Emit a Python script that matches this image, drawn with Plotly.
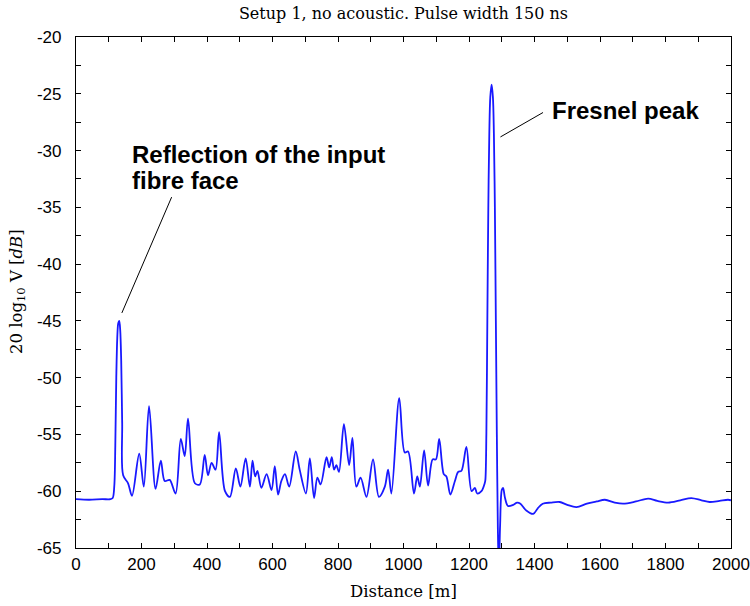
import plotly.graph_objects as go

# ---- data ----
distance_m = [0, 40, 80, 105, 112, 117, 120, 123, 126, 129, 132, 135, 138, 141, 144,
              159, 171, 193, 207, 223, 243, 259, 271, 286, 304, 320, 332, 342, 363, 378,
              393, 403, 414, 426, 437, 455, 470, 488, 502, 518, 531, 539, 547, 554, 566,
              582, 597, 607, 617, 627, 638, 651, 671, 683, 702, 714, 727, 737, 747, 765,
              773, 781, 788, 795, 803, 818, 834, 844, 856, 869, 887, 907, 925, 943, 953,
              963, 987, 1004, 1014, 1032, 1042, 1050, 1063, 1075, 1089, 1099, 1109, 1123,
              1131, 1143, 1157, 1167, 1177, 1192, 1208, 1218, 1225, 1238, 1248,
              1250, 1253, 1256, 1259, 1262, 1265, 1269, 1273, 1276, 1279, 1282, 1285, 1288,
              1291, 1295, 1300, 1304, 1310, 1319, 1335, 1347, 1357, 1375, 1396, 1410, 1425,
              1450, 1477, 1500, 1528, 1560, 1590, 1615, 1645, 1671, 1710, 1747, 1775, 1808,
              1845, 1879, 1910, 1935, 1965, 1991, 2000]
level_db = [-60.7, -60.75, -60.7, -60.7, -60.6, -59.5, -56.0, -50.0, -46.5, -45.2, -45.0, -45.8, -48.5, -54.0, -58.6,
            -59.3, -60.4, -56.7, -59.6, -52.5, -59.8, -57.3, -59.1, -59.0, -60.2, -55.4, -56.9, -53.6, -59.3, -59.4,
            -56.8, -58.6, -57.5, -58.1, -54.8, -60.0, -60.5, -58.0, -59.6, -57.1, -59.6, -57.3, -58.7, -58.2, -59.7,
            -58.5, -59.9, -57.8, -60.3, -59.1, -58.5, -59.6, -56.5, -58.1, -60.2, -57.1, -60.6, -58.8, -59.4, -57.0,
            -57.9, -57.0, -58.1, -57.7, -58.3, -54.1, -57.7, -55.3, -59.6, -58.8, -60.5, -57.2, -60.5, -59.6, -58.1,
            -60.2, -51.8, -56.6, -56.5, -60.2, -58.7, -59.6, -56.4, -59.5, -57.2, -57.2, -55.4, -58.5,
            -58.7, -60.3, -59.1, -58.3, -58.2, -56.1, -60.0, -59.7, -60.2, -60.0, -59.3,
            -59.0, -55.0, -45.0, -35.0, -28.5, -25.3, -24.2, -25.3, -28.5, -35.0, -45.0, -55.0, -63.0,
            -67.0, -63.0, -59.9, -59.7, -60.6, -61.3, -61.2, -61.0, -61.1, -61.7, -62.0, -61.5, -61.1,
            -61.0, -60.95, -61.2, -61.4, -61.1, -60.9, -60.75, -61.0, -61.1, -60.9, -60.65, -60.85, -61.0,
            -60.8, -60.6, -60.8, -60.95, -60.85, -60.75, -60.8]

x_ticks = list(range(0, 2001, 200))
x_ticklabels = [str(v) for v in x_ticks]
y_ticks = list(range(-65, -19, 5))
y_ticklabels = [str(v) for v in y_ticks]

title_text = "Setup 1, no acoustic. Pulse width 150 ns"
x_title = "Distance [m]"
y_title = "20 log<sub>10</sub> V [<i>dB</i>]"
note_reflection_1 = "<b>Reflection of the input</b>"
note_reflection_2 = "<b>fibre face</b>"
note_fresnel = "<b>Fresnel peak</b>"

fig = go.Figure()
fig.add_trace(go.Scatter(
    x=distance_m, y=level_db, mode="lines",
    line=dict(color="rgb(25,25,255)", width=1.8, shape="spline", smoothing=0.9),
    showlegend=False, hoverinfo="skip"))

serif = "DejaVu Serif"
sans = "Liberation Sans"

fig.update_layout(
    width=750, height=606,
    margin=dict(l=76, r=19, t=37, b=58),
    paper_bgcolor="white", plot_bgcolor="white",
    title=dict(text=title_text, x=0.5, xref="paper", y=1 - 13 / 606, yref="container",
               xanchor="center", yanchor="middle",
               font=dict(family=serif, size=16, color="black")),
    xaxis=dict(range=[0, 2000], tickvals=x_ticks, ticktext=x_ticklabels, ticks="inside",
               ticklen=5, tickwidth=1, automargin=False,
               tickcolor="black", showline=True, linecolor="black", linewidth=1.2,
               mirror="allticks", showgrid=False, zeroline=False,
               minor=dict(dtick=100, tick0=0, ticks="inside", ticklen=5, tickcolor="black", showgrid=False),
               tickfont=dict(family=sans, size=17, color="black")),
    yaxis=dict(range=[-65, -20], tickvals=y_ticks, ticktext=y_ticklabels, ticks="inside",
               ticklen=5, tickwidth=1, automargin=False, ticklabelstandoff=10,
               tickcolor="black", showline=True, linecolor="black", linewidth=1.2,
               mirror="allticks", showgrid=False, zeroline=False,
               minor=dict(dtick=2.5, tick0=-65, ticks="inside", ticklen=5, tickcolor="black", showgrid=False),
               tickfont=dict(family=sans, size=17, color="black")),
)

# axis titles
fig.add_annotation(text=x_title, xref="paper", yref="paper", x=0.5, y=(548 - 591) / 511,
                   xanchor="center", yanchor="middle", showarrow=False,
                   font=dict(family=serif, size=16.5, color="black"))
fig.add_annotation(text=y_title, xref="paper", yref="paper", x=(17 - 76) / 655, y=(548 - 292) / 511,
                   xanchor="center", yanchor="middle", showarrow=False, textangle=-90,
                   font=dict(family=serif, size=16.5, color="black"))

# annotation leader lines
fig.add_shape(type="line", xref="x", yref="y", x0=140, y0=-44.3, x1=292, y1=-34.1,
              line=dict(color="black", width=1))
fig.add_shape(type="line", xref="x", yref="y", x0=1296, y0=-28.8, x1=1426, y1=-26.65,
              line=dict(color="black", width=1))

fig.add_annotation(text=note_reflection_1, xref="x", yref="y", x=166, y=-20 - (154.5 - 37.1) / 11.36,
                   xanchor="left", yanchor="middle", align="left", showarrow=False,
                   font=dict(family=sans, size=24, color="black"))
fig.add_annotation(text=note_reflection_2, xref="x", yref="y", x=166, y=-20 - (180.5 - 37.1) / 11.36,
                   xanchor="left", yanchor="middle", align="left", showarrow=False,
                   font=dict(family=sans, size=24, color="black"))
fig.add_annotation(text=note_fresnel, xref="x", yref="y", x=1446, y=-26.5,
                   xanchor="left", yanchor="middle", align="left", showarrow=False,
                   font=dict(family=sans, size=24, color="black"))

fig.write_html("out.html")
